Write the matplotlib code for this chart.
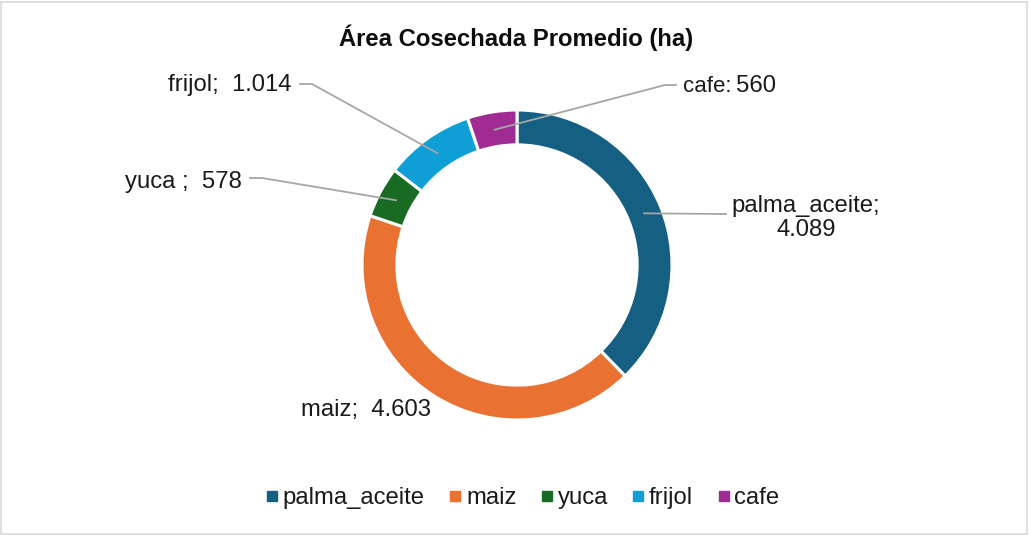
import numpy as np
import matplotlib.pyplot as plt
from matplotlib.lines import Line2D
from matplotlib.patches import Rectangle

plt.rcParams['font.family'] = ['Liberation Sans', 'DejaVu Sans']

cultivos = ['palma_aceite', 'maiz', 'yuca', 'frijol', 'cafe']
area = [4089, 4603, 578, 1014, 560]
etiquetas = ['palma_aceite;\n4.089', 'maiz;  4.603', 'yuca ;  578', 'frijol;  1.014', 'cafe: 560']
colores = ['#156082', '#E97132', '#196B24', '#0F9ED5', '#A02B93']

W, H = 1029, 535
cx, cy, R = 517, 265, 155   # donut centre / radius in pixels (from top)
fs = 17.2

fig = plt.figure(figsize=(W / 100, H / 100), dpi=100)
half = 200
ax = fig.add_axes([(cx - half) / W, (H - cy - half) / H, 2 * half / W, 2 * half / H])

wedges, _ = ax.pie(area, colors=colores, startangle=90, counterclock=False, radius=1,
                   wedgeprops=dict(width=0.225, edgecolor='white', linewidth=2.2))
lim = half / R
ax.set_xlim(-lim, lim)
ax.set_ylim(-lim, lim)
ax.set_aspect('equal')
ax.axis('off')


def px(x, y):
    # pixel (from top-left) -> data coords
    return (x - cx) / R, (cy - y) / R


# label layout: text anchor (px), ha, elbow points of the leader (px) or None
layout = [
    ((806, 218), 'center', [(726, 214)]),
    ((366, 410), 'center', None),
    ((242, 182), 'right', [(262, 178), (250, 178)]),
    ((292, 85), 'right', [(312, 84), (300, 84)]),
    (None, None, [(665, 85), (676, 85)]),
]

for w, lab, (pos, ha, leader) in zip(wedges, etiquetas, layout):
    ang = np.deg2rad((w.theta1 + w.theta2) / 2)
    x0, y0 = 0.885 * np.cos(ang), 0.885 * np.sin(ang)
    if leader:
        xs = [x0] + [px(*p)[0] for p in leader]
        ys = [y0] + [px(*p)[1] for p in leader]
        ax.plot(xs, ys, color='#a6a6a6', lw=1.3, clip_on=False)
    if pos is not None:
        tx, ty = px(*pos)
        ax.text(tx, ty, lab, ha=ha, va='center', fontsize=fs, color='#1a1a1a',
                multialignment='center', linespacing=1.1, clip_on=False)

# cafe label: smaller name, bigger value
tx, ty = px(683, 86)
ax.text(tx, ty, 'cafe:', ha='left', va='center', fontsize=16, color='#1a1a1a')
tx, ty = px(736, 86)
ax.text(tx, ty, str(area[4]), ha='left', va='center', fontsize=fs, color='#1a1a1a')

fig.text(516 / W, 1 - 38 / H, 'Área Cosechada Promedio (ha)', ha='center', va='center',
         fontsize=fs, fontweight='bold', color='#0d0d0d')

handles = [Line2D([], [], marker='s', ls='none', color=c, markersize=6.5) for c in colores]
fig.legend(handles, cultivos, loc='center', bbox_to_anchor=(521 / W, 1 - 498 / H), ncol=5,
           frameon=False, fontsize=fs, handletextpad=0.05, columnspacing=0.87,
           handlelength=0.8, labelcolor='#1a1a1a')

fig.patches.append(Rectangle((0.001, 0.002), 0.997, 0.994, transform=fig.transFigure,
                             fill=False, edgecolor='#d9d9d9', lw=1.2))

fig.savefig('out.png', dpi=100, facecolor='white')
